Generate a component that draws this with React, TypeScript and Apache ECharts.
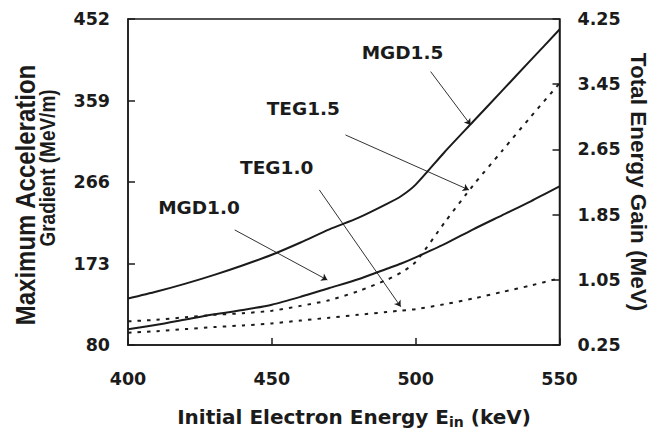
import React, { useEffect, useRef } from "react";
import * as echarts from "echarts";

// Initial electron energy (keV)
const energies = [400, 410, 420, 430, 440, 450, 460, 470, 480, 490, 495, 500, 510, 520, 530, 540, 550];
// Maximum acceleration gradient (MeV/m), left axis
const mgd15 = [133, 141, 150, 160, 171, 183, 197, 212, 225, 241, 250, 263, 300, 335, 370, 405, 440];
const mgd10 = [98, 103, 109, 115, 120, 126, 135, 145, 155, 167, 173, 180, 195, 212, 228, 244, 261];
// Total energy gain (MeV), right axis
const teg15 = [0.54, 0.56, 0.59, 0.62, 0.64, 0.67, 0.73, 0.8, 0.91, 1.05, 1.14, 1.27, 1.75, 2.21, 2.63, 3.05, 3.46];
const teg10 = [0.4, 0.42, 0.445, 0.47, 0.49, 0.515, 0.55, 0.585, 0.62, 0.655, 0.672, 0.69, 0.75, 0.82, 0.9, 0.98, 1.07];

const xTicks = [400, 450, 500, 550];
const leftTicks = [80, 173, 266, 359, 452];
const rightTicks = [0.25, 1.05, 1.85, 2.65, 3.45, 4.25];

// Annotation arrows in (keV, MeV/m) coordinates
const arrowFrom = [[505.2, 392], [475.6, 319.7], [466.5, 257], [437.1, 211.3]];
const arrowTo = [[519.1, 331.1], [518.5, 257], [494.8, 123.7], [469.3, 154.2]];
const annotationLabels = ["MGD1.5", "TEG1.5", "TEG1.0", "MGD1.0"];

const INK = "#1b1b1b";
const SANS = "'DejaVu Sans', sans-serif";
const HELV = "'Liberation Sans', Arial, sans-serif";

export default function App() {
  const ref = useRef<HTMLDivElement>(null);

  useEffect(() => {
    if (!ref.current) return;
    const chart = echarts.init(ref.current, undefined, { renderer: "svg" });

    const labelPos = [
      [402.5, 52.5],
      [303.3, 108.3],
      [276.7, 167.5],
      [199, 207.5],
    ];

    const axisCommon = {
      axisLine: { show: true, lineStyle: { color: INK, width: 1.5 } },
      axisTick: { show: true, inside: true, length: 7, lineStyle: { color: INK, width: 1.5 } },
      splitLine: { show: false },
    };
    const tickFont = { color: INK, fontFamily: SANS, fontWeight: "bold" as const, fontSize: 17.5 };

    const lineSeries = (name: string, axis: number, vals: number[], dashed: boolean) => ({
      name,
      type: "line",
      yAxisIndex: axis,
      data: energies.map((e, i) => [e, vals[i]]),
      symbol: "none",
      smooth: 0.25,
      lineStyle: dashed
        ? { color: INK, width: 2, type: [3.5, 6] }
        : { color: INK, width: 2 },
      z: dashed ? 2 : 3,
    });

    const option: any = {
      animation: false,
      backgroundColor: "#ffffff",
      grid: {
        left: 128,
        right: 110.5,
        top: 19,
        bottom: 88,
        show: true,
        borderColor: INK,
        borderWidth: 1.5,
        containLabel: false,
      },
      xAxis: {
        type: "value",
        min: 400,
        max: 550,
        interval: 50,
        ...axisCommon,
        axisTick: { ...axisCommon.axisTick, customValues: xTicks },
        axisLabel: { ...tickFont, margin: 25, customValues: xTicks },
      },
      yAxis: [
        {
          type: "value",
          min: 80,
          max: 452,
          position: "left",
          ...axisCommon,
          axisTick: { ...axisCommon.axisTick, customValues: leftTicks },
          axisLabel: { ...tickFont, margin: 18, customValues: leftTicks },
        },
        {
          type: "value",
          min: 0.25,
          max: 4.25,
          position: "right",
          ...axisCommon,
          axisTick: { ...axisCommon.axisTick, customValues: rightTicks },
          axisLabel: {
            ...tickFont,
            margin: 18,
            customValues: rightTicks,
            formatter: (v: number) => v.toFixed(2),
          },
        },
      ],
      series: [
        {
          ...lineSeries("MGD1.5", 0, mgd15, false),
          markLine: {
            silent: true,
            animation: false,
            symbol: ["none", "arrow"],
            symbolSize: 6,
            lineStyle: { color: INK, width: 0.9, type: "solid" },
            itemStyle: { color: INK },
            label: { show: false },
            emphasis: { disabled: true },
            data: arrowFrom.map((f, i) => [{ coord: f }, { coord: arrowTo[i] }]),
          },
        },
        lineSeries("MGD1.0", 0, mgd10, false),
        lineSeries("TEG1.5", 1, teg15, true),
        lineSeries("TEG1.0", 1, teg10, true),
      ],
      graphic: [
        ...annotationLabels.map((t, i) => ({
          type: "text",
          x: labelPos[i][0],
          y: labelPos[i][1],
          silent: true,
          style: {
            text: t,
            fill: INK,
            font: `bold 18.5px ${SANS}`,
            align: "center",
            verticalAlign: "middle",
          },
        })),
        {
          type: "text",
          x: 354,
          y: 416.5,
          silent: true,
          style: {
            text: "{a|Initial Electron Energy E}{s|in}{a| (keV)}",
            fill: INK,
            align: "center",
            verticalAlign: "middle",
            rich: {
              a: { font: `bold 20px ${SANS}`, fill: INK },
              s: { font: `bold 14px ${SANS}`, fill: INK, padding: [10, 0, 0, 0] },
            },
          },
        },
        {
          type: "text",
          x: 25,
          y: 195,
          rotation: Math.PI / 2,
          scaleY: 1.15,
          silent: true,
          style: {
            text: "Maximum Acceleration",
            fill: INK,
            font: `bold 24px ${HELV}`,
            align: "center",
            verticalAlign: "middle",
          },
        },
        {
          type: "text",
          x: 47,
          y: 168,
          rotation: Math.PI / 2,
          scaleY: 1.2,
          silent: true,
          style: {
            text: "Gradient (MeV/m)",
            fill: INK,
            font: `bold 19px ${HELV}`,
            align: "center",
            verticalAlign: "middle",
          },
        },
        {
          type: "text",
          x: 638,
          y: 182,
          rotation: -Math.PI / 2,
          silent: true,
          style: {
            text: "Total Energy Gain (MeV)",
            fill: INK,
            font: `bold 22.5px ${HELV}`,
            align: "center",
            verticalAlign: "middle",
          },
        },
      ],
    };

    chart.setOption(option);
    return () => chart.dispose();
  }, []);

  return (
    <div
      ref={ref}
      style={{ position: "absolute", left: 0, top: 0, width: 670, height: 433 }}
    />
  );
}
